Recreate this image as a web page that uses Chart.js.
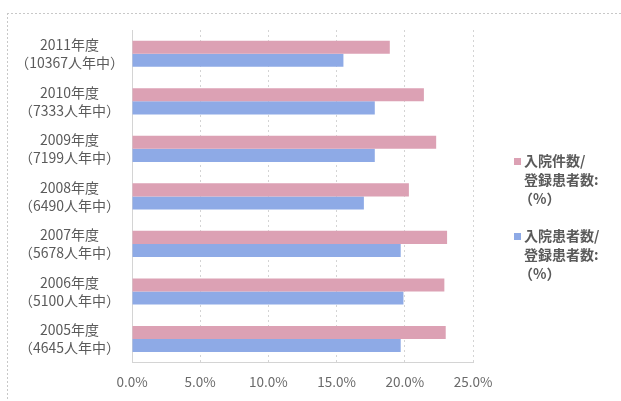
<!DOCTYPE html>
<html>
<head>
<meta charset="utf-8">
<script src="https://cdn.jsdelivr.net/npm/chart.js@4.4.0/dist/chart.umd.min.js"></script>
<style>
  html, body { margin: 0; padding: 0; background: #fff; }
</style>
</head>
<body>
<canvas id="hosp" width="621" height="401"></canvas>
<script>
const years = ['2011年度', '2010年度', '2009年度', '2008年度', '2007年度', '2006年度', '2005年度'];
const personYears = ['10367', '7333', '7199', '6490', '5678', '5100', '4645'];
const admissionRate = [18.9, 21.4, 22.3, 20.3, 23.1, 22.9, 23.0];
const patientRate = [15.5, 17.8, 17.8, 17.0, 19.7, 19.9, 19.7];
const xTicks = [0, 5, 10, 15, 20, 25];
const seriesNames = [
  ['入院件数/', '登録患者数:', '（%）'],
  ['入院患者数/', '登録患者数:', '（%）']
];
const seriesColors = ['#dca1b4', '#8eaae6'];

const FONT = '"Noto Sans CJK JP", "Noto Sans", sans-serif';

// dotted outer frame, top and left edge
const framePlugin = {
  id: 'frame',
  beforeDraw(chart) {
    const c = chart.ctx;
    c.save();
    c.strokeStyle = '#c8c8c8';
    c.lineWidth = 1;
    c.setLineDash([2, 2]);
    c.beginPath();
    c.moveTo(7, 13.5);
    c.lineTo(621, 13.5);
    c.moveTo(7.5, 13);
    c.lineTo(7.5, 401);
    c.stroke();
    c.restore();
  }
};

// legend on the right with three-line labels
const sideLegend = {
  id: 'sideLegend',
  afterDraw(chart) {
    const c = chart.ctx;
    c.save();
    c.font = 'bold 14px ' + FONT;
    c.textBaseline = 'middle';
    c.textAlign = 'left';
    const tops = [161, 236];
    chart.data.datasets.forEach((ds, i) => {
      const y0 = tops[i];
      c.fillStyle = ds.backgroundColor;
      c.fillRect(514, y0 - 3, 7, 7);
      c.fillStyle = '#5a5a5a';
      seriesNames[i].forEach((line, j) => {
        const dx = line.startsWith('（') ? -5 : 0;
        c.fillText(line, 524 + dx, y0 + j * 19);
      });
    });
    c.restore();
  }
};

new Chart(document.getElementById('hosp'), {
  type: 'bar',
  data: {
    labels: years.map((y, i) => [y, '（' + personYears[i] + '人年中）']),
    datasets: [
      {
        label: seriesNames[0].join(''),
        data: admissionRate,
        backgroundColor: seriesColors[0],
        borderWidth: 0,
        categoryPercentage: 0.55,
        barPercentage: 1.0
      },
      {
        label: seriesNames[1].join(''),
        data: patientRate,
        backgroundColor: seriesColors[1],
        borderWidth: 0,
        categoryPercentage: 0.55,
        barPercentage: 1.0
      }
    ]
  },
  options: {
    indexAxis: 'y',
    responsive: false,
    animation: false,
    layout: { padding: { top: 30, right: 148, left: 8, bottom: 0 } },
    scales: {
      x: {
        min: 0,
        max: 25,
        afterBuildTicks(axis) {
          axis.ticks = xTicks.map(v => ({ value: v }));
        },
        ticks: {
          color: '#6a6a6a',
          font: { family: FONT, size: 13.5 },
          padding: 11,
          maxRotation: 0,
          callback: v => v.toFixed(1) + '%'
        },
        grid: {
          color: '#d4d4d4',
          drawTicks: false
        },
        border: { display: true, color: '#d4d4d4', dash: [2, 3] }
      },
      y: {
        afterFit(axis) { axis.width = 124; },
        ticks: {
          color: '#5a5a5a',
          font: { family: FONT, size: 14, lineHeight: 1.3 },
          padding: 8,
          crossAlign: 'center'
        },
        grid: { display: false, drawTicks: false },
        border: { display: true, color: '#d4d4d4', dash: [2, 3] }
      }
    },
    plugins: {
      legend: { display: false },
      tooltip: { enabled: false }
    }
  },
  plugins: [framePlugin, sideLegend]
});
</script>
</body>
</html>
